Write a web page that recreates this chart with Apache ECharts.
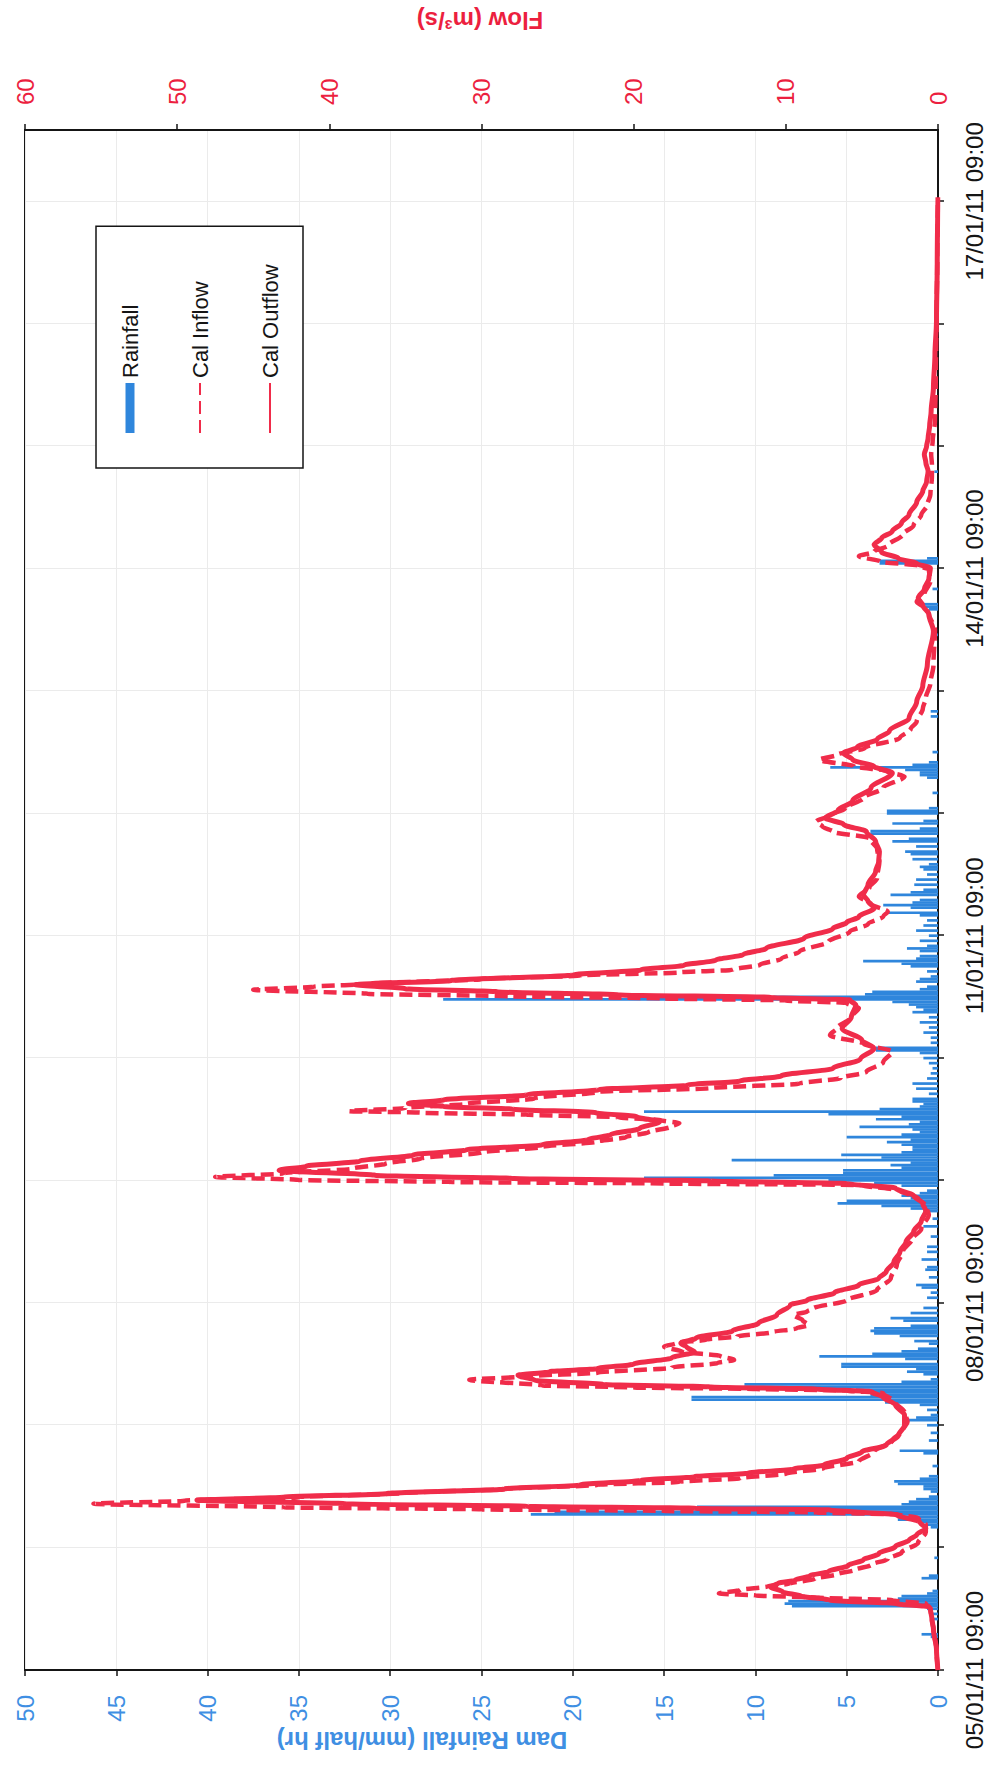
<!DOCTYPE html>
<html>
<head>
<meta charset="utf-8">
<script src="https://cdn.jsdelivr.net/npm/echarts@6.0.0/dist/echarts.min.js"></script>
<style>
  html, body { margin: 0; padding: 0; background: #ffffff; width: 996px; height: 1767px; overflow: hidden; }
  /* The chart is laid out landscape and turned a quarter turn so time runs upwards. */
  #chart {
    position: absolute; left: 0; top: 0;
    width: 1767px; height: 996px;
    transform-origin: 0 0;
    transform: translate(0, 1767px) rotate(-90deg);
  }
</style>
</head>
<body>
<div id="chart"></div>
<script>
// Hours after 05/01/11 09:00
const timeLabels = ['05/01/11 09:00', '08/01/11 09:00', '11/01/11 09:00', '14/01/11 09:00', '17/01/11 09:00'];
const labelStepHours = 72;

// Dam rainfall, mm per half hour: [hour, mm]
const rainfall = [
  [6.5,0.4],[7,0.9],[10,0.3],[11,0.3],[12,0.6],[12.5,8.0],[13,8.4],[13.5,8.2],[14,2.2],[14.5,2.0],[15,0.6],[15.5,0.3],[18,0.9],[18.5,0.5],[22,0.2],
  [28,0.4],[28.5,0.6],[29,1.0],[29.5,2.2],[30,2.2],[30.5,22.3],[31,21.0],[31.5,13.3],[32,13.2],[32.5,2.0],[33,1.6],[33.5,1.2],[34,0.5],[35,0.4],[35.5,0.8],[36,0.8],[36.5,2.2],[37,2.4],[37.5,1.0],[38,0.5],[40,0.3],[42.5,0.8],[43,2.1],
  [45,0.5],[46.5,0.4],[48,0.6],[49,1.9],[49.5,1.2],[50,0.4],[51,0.6],[52,1.0],[52.5,2.9],[53,13.5],[53.5,13.5],[54,3.7],[54.5,3.7],[55,4.5],[55.5,10.6],[56,10.6],[56.5,2.0],[57,0.4],[58,0.8],[58.5,1.7],[59,1.2],[59.5,5.3],[60,5.3],[61,1.8],[61.5,6.5],[62,3.6],[62.5,2.0],[63,1.1],[64,0.5],[64.5,1.3],[65.5,2.1],[66,3.5],[66.5,3.7],[67,3.5],[67.5,1.5],[68.5,1.9],[69,2.6],[70,1.5],[71,0.8],
  [73,0.6],[74,0.4],[75,0.9],[75.5,1.2],[77,0.5],[78.5,0.7],[79,0.6],[80.5,0.9],[82,0.6],[83,0.6],[85,0.4],[87,0.8],[88.5,0.3],
  [90,0.8],[90.5,1.5],[91,3.1],[91.5,5.5],[92,5.0],[92.5,1.5],[93,2.0],[93.5,1.0],[94,0.6],[95,2.0],[95.5,3.5],[96,6.0],[96.5,16.1],[97,9.0],[97.5,5.2],[98,5.2],[98.5,2.0],[99,2.6],[99.5,1.5],[100,11.3],[100.5,3.1],[101,5.3],[101.5,2.0],
  [102,1.4],[102.5,1.4],[103,2.0],[103.5,2.8],[104,1.5],[104.5,5.0],[105,2.0],[105.5,1.0],[106,1.4],[106.5,4.3],[107,1.6],[107.5,1.0],[108,3.4],[108.5,2.0],[109,6.0],[109.5,16.1],[110,3.2],[110.5,1.0],[111,0.8],[111.5,1.4],[112,1.4],[113,0.5],[114,1.2],[115,1.4],[116,0.6],[117,0.4],[118,0.3],[119,0.5],[120,0.8],[121,1.0],[121.5,3.4],[122,3.4],[123,0.4],[124,0.4],[125,0.8],[126,0.5],[127,1.0],[128,0.5],[129,1.4],[129.5,0.8],[130,1.2],[130.5,1.6],[131,2.5],
  [131.5,27.1],[132,9.0],[132.5,4.0],[133,3.6],[133.5,1.0],[134,0.6],[135,1.2],[135.5,1.0],[136,0.4],[137,0.6],[138,1.5],[138.5,2.0],[139,4.1],[139.5,1.2],[140,1.0],[141,1.0],[141.5,1.7],[142,0.6],[143,1.0],[144,0.5],[145,1.2],[146,0.8],[147,0.6],[148,1.0],[148.5,2.8],[149.5,1.5],[150,3.0],[150.5,1.4],[151,1.0],[152,2.6],[152.5,1.5],[153,0.8],[154,1.3],[155,1.2],[156,0.6],[157,0.8],[157.5,1.0],[158,0.5],[159,1.4],[160,1.5],[160.5,1.8],[161.5,1.2],[162.5,2.5],[163,1.6],[164,3.7],[164.5,3.7],[165,1.0],[166,2.5],[166.5,0.8],[168,2.8],[168.5,2.8],[169,0.5],
  [172,0.3],[175,0.6],[175.5,1.0],[176,1.0],[176.5,1.8],[177,5.9],[177.5,1.4],[178,0.5],[180,0.3],[187,0.4],[188,0.4],[203,0.2],[208,0.5],[208.5,0.7],[209,1.1],[212,0.3],[217,3.2],[217.5,3.2],[218,0.6],[235,0.2]
];

// Calculated inflow to the dam, m3/s: [hour, flow]
const calInflow = [
  [0,0],[4,0.1],[8,0.3],[10,0.4],[12,0.5],[13,0.8],[13.7,3],[14.2,8],[14.6,12],[15.0,14.4],[15.7,13.0],[16.4,11.2],[16.9,9.8],[17.9,8.1],[18.8,6.6],[19.6,5.5],[20.6,4.4],[21.8,3.3],[23,2.4],[25,1.3],[27,0.8],[28.5,0.8],
  [29.8,1.3],[30.5,2.6],[30.9,8],[31.2,18],[31.5,30],[31.9,43],[32.6,55.5],[33.2,49.5],[33.9,42],[34.7,35],[35.5,28.5],[36.3,22.4],[36.9,17],[37.6,13],[38.5,10],[39.6,7.5],[40.9,5.2],[42.8,4.2],[45,3.0],[47,2.3],[48.7,2.0],
  [50.5,2.2],[52.5,2.8],[54.3,3.6],[54.8,6],[55.1,12],[55.4,20],[55.8,26],[56.9,30.8],[57.6,27],[58.3,22.4],[59.3,17.5],[60.2,14.5],[60.8,13.4],[61.6,14.3],[62.4,16.8],[63.4,18.0],[64.1,17.2],[64.8,15.2],[65.4,13.2],[66.2,11],[67,9.3],[67.6,8.5],[68.6,8.9],[69.6,9.5],[70.3,8.6],[70.9,8.2],[72.5,6.0],[74.5,4.0],[76.8,3.1],[79.5,2.7],[82.1,2.3],[84.5,1.7],[86.5,1.1],[89.3,0.6],
  [91,0.8],[92.5,1.3],[94,2.5],[95.1,5],[95.4,18],[95.7,32],[96.1,42],[96.7,47.5],[97.4,43],[98.3,38.5],[99.3,36.3],[100.3,34],[101.5,30],[102.6,26],[103.6,22.4],[104.5,20.5],[105.5,19],[106.5,17.6],[107.2,17.0],
  [107.8,18.2],[108.4,21],[108.9,27],[109.3,34],[109.6,38.7],[110.2,35],[111,31],[112.1,26.5],[113.4,22.3],[114.1,15],[115,9.1],[116.1,6.4],[117.3,4.7],[119.2,3.6],[121.3,3.0],[122.8,4.9],[124.5,7.1],[126,6.6],[127.8,5.8],[129.8,5.2],
  [130.8,6.0],[131.3,10],[131.7,18],[132.1,28],[132.6,37.5],[133.4,45.0],[134.0,41],[134.6,37],[135.5,30],[136.2,23.5],[136.8,17],[137.3,13.5],[138.3,11.7],[139.5,10.3],[140.9,9.1],[142.8,7.2],[144.8,5.8],[146.3,4.6],[147.8,3.6],[148.7,3.3],
  [150.2,4.4],[151.7,5.2],[153.5,4.5],[155.3,4.0],[158.6,3.85],[161,4.0],[163.1,4.5],[164.4,6.9],[165.4,7.6],[166.4,8.0],[167.5,7.2],[169,6.1],[171,4.9],[173,3.6],[175.2,2.2],[176.3,3.4],[177.2,5.5],[178.5,7.8],[179.5,6.6],[180.8,4.8],[182.8,2.5],[184.5,1.8],[186,1.4],[188.5,1.0],[190.6,0.8],[193.5,0.5],[197,0.3],[204,0.2],
  [207.2,0.6],[208.5,1.0],[209.5,1.4],[211,0.9],[213.5,0.5],[215.8,0.6],[216.5,1.2],[217.4,3.8],[218.4,5.2],[219.3,4.2],[220.5,3.3],[222.7,2.3],[224.5,1.6],[226.5,1.1],[228.5,0.7],[230.5,0.5],[234,0.4],[236.5,0.4],[238.4,0.45],[241,0.35],[245,0.2],[252,0.15],[265,0.1],[276,0.05],[288.5,0]
];

// Calculated outflow from the dam, m3/s: [hour, flow]
const calOutflow = [
  [0,0],[4,0.1],[8,0.3],[10,0.4],[12,0.5],[12.4,0.6],[13,2.7],[13.7,7.1],[14.5,9.0],[15.3,10.2],[16.3,11.0],[17.0,10.5],[17.6,9.4],[18.5,8.4],[19.3,7.2],[20.5,5.9],[21.6,4.9],[22.8,3.9],[24.2,2.8],[25.5,1.9],[26.5,1.4],[27.8,0.8],
  [29,1.2],[30.4,2.7],[31.4,7.1],[31.7,15.9],[32.1,27],[32.6,39],[33.3,48.7],[33.9,43],[34.6,36.2],[35.5,28.5],[36.3,23.5],[37.2,19.5],[37.9,16.0],[38.6,12.5],[39.4,9.5],[40.2,7.5],[41.5,6.0],[42.8,5.0],[44.1,3.4],[46,2.6],[48,2.2],[50,2.2],
  [52,2.8],[53.5,3.6],[54.6,4.4],[55.1,8],[55.5,15],[56,22],[56.8,26.5],[57.8,27.6],[58.5,25.5],[59.1,22.4],[60,20],[61.2,17.5],[62.4,16.0],[63.3,16.5],[64.1,16.9],[65.1,15.9],[66.5,13.5],[68,11.8],[69.6,10.6],[71.6,9.7],[72.5,8.6],[74,6.8],[75.5,5.2],[76.8,3.9],[78.1,3.4],[80,2.9],[82,2.5],[84,2.1],[86,1.6],[88,1.1],[90,0.8],
  [91.5,1.0],[93,1.6],[94.5,2.8],[95.4,6],[95.9,15],[96.4,28],[97,37],[98,43.3],[98.8,41.5],[99.8,38],[101,34.5],[102,31],[103,26],[104,23],[105,21.5],[106.2,19.6],[107.5,18.3],
  [108.5,19.8],[109.3,22.5],[110,28],[110.5,32.5],[111.1,34.8],[111.8,32.5],[112.8,27],[113.8,22.3],[114.7,16.5],[115.5,13],[116.5,10.3],[118,6.9],[119.8,5.1],[121.9,4.2],[123.5,5.0],[125.8,6.3],[128,5.7],[130.4,5.4],
  [131.4,5.8],[131.9,11],[132.4,21],[133,29],[133.6,35],[134.4,38.3],[135.2,32],[136.3,24],[137.3,19.5],[138.2,16.7],[139.2,14.6],[140.3,12.8],[141.5,11.3],[143.5,8.8],[145.4,6.9],[146.6,6.0],[147.7,5.2],[149.4,4.2],
  [150.8,4.6],[152,4.9],[154,4.6],[156.6,4.1],[158.5,3.9],[160.5,3.85],[162.5,4.1],[164.4,4.7],[165.8,6.2],[167.1,7.4],[168.5,6.6],[170.5,5.6],[173,4.4],[175.9,3.0],[177.2,4.2],[178.5,5.6],[179.8,6.2],[181,5.3],[182.5,4.0],[184.1,3.2],[186.7,1.9],[189.9,1.4],[193,1.0],[197.2,0.7],[203.7,0.3],
  [207,0.6],[208.8,1.0],[210.2,1.3],[212,0.9],[214,0.6],[216.1,0.5],[217,1.4],[218,2.6],[219.2,3.7],[220.7,4.2],[222,3.7],[223.3,3.0],[224.9,2.4],[226.6,1.9],[229,1.4],[231.2,1.0],[233,0.75],[235.1,0.65],[236.8,0.8],[238.4,0.9],[240,0.75],[241.6,0.65],[244,0.55],[246.9,0.45],[251.5,0.3],[258,0.2],[264.5,0.1],[276,0.05],[288.8,0]
];

const FONT = '"Liberation Sans", Arial, sans-serif';
const BLUE_TEXT = '#3f8fe3';
const RED_TEXT = '#ec1f3f';
const BAR_BLUE = '#2f86dc';
const LINE_RED = '#f02c4a';
const GRID_GREY = '#ebebeb';

const chart = echarts.init(document.getElementById('chart'), null, { renderer: 'svg' });

// Line legend entries show only the stroke, no point marker.
const hiddenMarker = { color: 'rgba(0,0,0,0)', borderWidth: 0, opacity: 0 };

chart.setOption({
  backgroundColor: '#ffffff',
  animation: false,
  grid: {
    left: 97, right: 130, top: 25, bottom: 58,
    show: true, borderColor: '#151515', borderWidth: 2, backgroundColor: 'transparent'
  },
  legend: {
    orient: 'vertical',
    left: 1299, top: 96,
    padding: [23, 38, 22, 34],
    itemGap: 48,
    itemWidth: 50,
    itemHeight: 9,
    borderColor: '#151515',
    borderWidth: 1.5,
    backgroundColor: '#ffffff',
    textStyle: { fontFamily: FONT, fontSize: 22, color: '#151515' },
    data: [
      { name: 'Rainfall', icon: 'rect' },
      { name: 'Cal Inflow', itemStyle: hiddenMarker },
      { name: 'Cal Outflow', itemStyle: hiddenMarker }
    ]
  },
  xAxis: {
    type: 'value',
    min: 0, max: 302, interval: 24,
    axisLine: { show: true, lineStyle: { color: '#151515', width: 2 } },
    axisTick: { show: true, length: 6, lineStyle: { color: '#151515', width: 1.5 } },
    axisLabel: {
      fontFamily: FONT, fontSize: 24, color: '#151515', margin: 24,
      showMinLabel: true, showMaxLabel: false,
      formatter: function (v) {
        const i = v / labelStepHours;
        return (Number.isInteger(i) && i < timeLabels.length) ? timeLabels[i] : '';
      }
    },
    splitLine: { show: true, lineStyle: { color: GRID_GREY, width: 1 } }
  },
  yAxis: [
    {
      type: 'value', position: 'left',
      min: 0, max: 50, interval: 5,
      axisLine: { show: true, lineStyle: { color: '#151515', width: 2 } },
      axisTick: { show: true, length: 6, lineStyle: { color: '#151515', width: 1.5 } },
      axisLabel: { fontFamily: FONT, fontSize: 24, color: BLUE_TEXT, margin: 25 },
      splitLine: { show: true, lineStyle: { color: GRID_GREY, width: 1 } }
    },
    {
      type: 'value', position: 'right',
      min: 0, max: 60, interval: 10,
      axisLine: { show: true, lineStyle: { color: '#151515', width: 2 } },
      axisTick: { show: true, length: 6, lineStyle: { color: '#151515', width: 1.5 } },
      axisLabel: { fontFamily: FONT, fontSize: 24, color: RED_TEXT, margin: 25 },
      splitLine: { show: false }
    }
  ],
  graphic: [
    {
      type: 'text', x: 27, y: 422, rotation: Math.PI / 2, silent: true,
      style: { text: 'Dam Rainfall (mm/half hr)', fill: BLUE_TEXT, font: 'bold 24px ' + FONT, align: 'center', verticalAlign: 'middle' }
    },
    {
      type: 'text', x: 1747, y: 480, rotation: Math.PI / 2, silent: true,
      style: { text: 'Flow (m\u00b3/s)', fill: RED_TEXT, font: 'bold 24px ' + FONT, align: 'center', verticalAlign: 'middle' }
    }
  ],
  series: [
    {
      name: 'Rainfall', type: 'bar', yAxisIndex: 0,
      data: rainfall, barWidth: 2.7,
      itemStyle: { color: BAR_BLUE }, z: 2
    },
    {
      name: 'Cal Outflow', type: 'line', yAxisIndex: 1,
      data: calOutflow, symbol: 'none', smooth: 0.3, smoothMonotone: 'x',
      lineStyle: { color: LINE_RED, width: 5 }, itemStyle: { color: LINE_RED }, z: 3
    },
    {
      name: 'Cal Inflow', type: 'line', yAxisIndex: 1,
      data: calInflow, symbol: 'none', smooth: 0.3, smoothMonotone: 'x',
      lineStyle: { color: LINE_RED, width: 4.5, type: [13, 6] }, itemStyle: { color: LINE_RED }, z: 4
    }
  ]
});
</script>
</body>
</html>
